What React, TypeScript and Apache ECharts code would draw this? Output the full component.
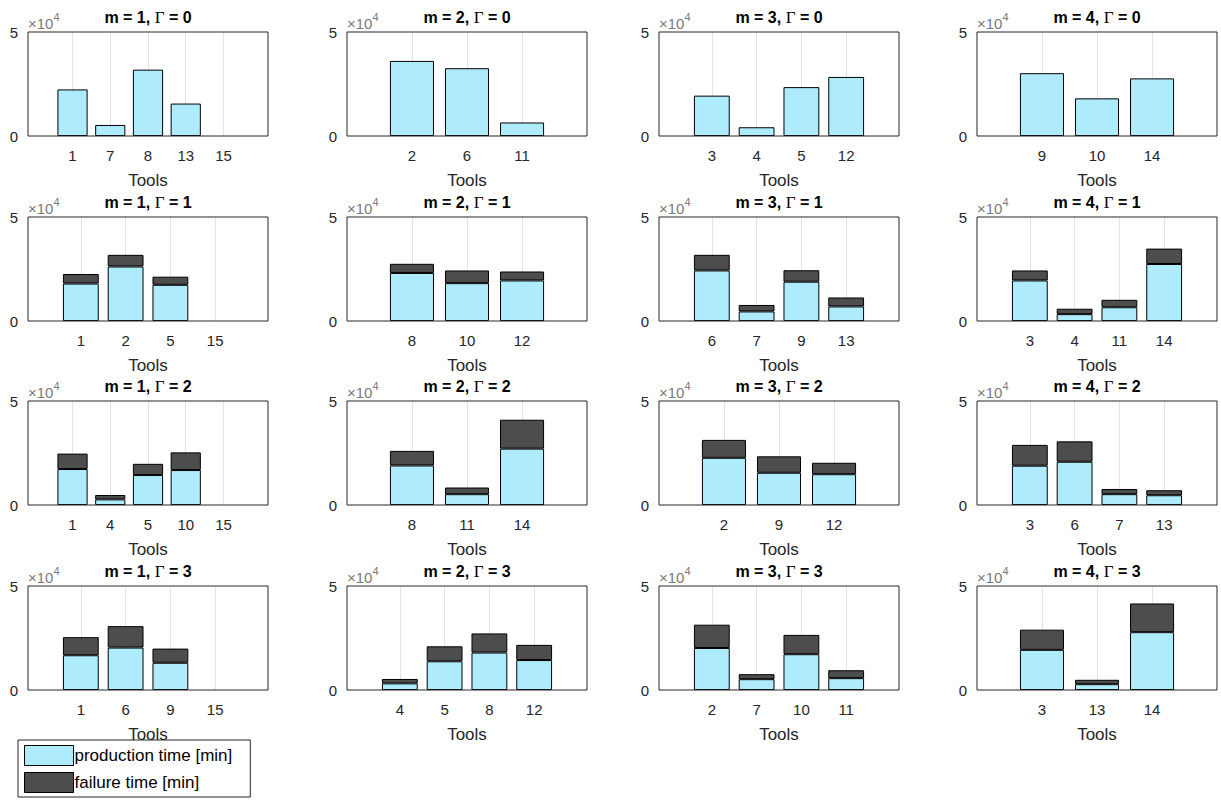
import { useEffect, useRef } from 'react';
import * as echarts from 'echarts';

// tools and times (x1e4 min) per subplot, row = Gamma, col = m
const tools: string[][] = [
  ['1', '7', '8', '13', '15'], ['2', '6', '11'], ['3', '4', '5', '12'], ['9', '10', '14'],
  ['1', '2', '5', '15'], ['8', '10', '12'], ['6', '7', '9', '13'], ['3', '4', '11', '14'],
  ['1', '4', '5', '10', '15'], ['8', '11', '14'], ['2', '9', '12'], ['3', '6', '7', '13'],
  ['1', '6', '9', '15'], ['4', '5', '8', '12'], ['2', '7', '10', '11'], ['3', '13', '14'],
];
const production: number[][] = [
  [2.24, 0.53, 3.19, 1.56, 0], [3.61, 3.26, 0.65], [1.94, 0.42, 2.35, 2.84], [3.02, 1.81, 2.77],
  [1.8, 2.62, 1.74, 0], [2.31, 1.82, 1.95], [2.43, 0.46, 1.89, 0.7], [1.95, 0.33, 0.66, 2.74],
  [1.73, 0.27, 1.44, 1.68, 0], [1.9, 0.52, 2.71], [2.27, 1.55, 1.48], [1.89, 2.08, 0.52, 0.47],
  [1.67, 2.04, 1.31, 0], [0.32, 1.38, 1.8, 1.44], [2.02, 0.52, 1.72, 0.57], [1.93, 0.28, 2.78],
];
const failure: number[][] = [
  [0, 0, 0, 0, 0], [0, 0, 0], [0, 0, 0, 0], [0, 0, 0],
  [0.46, 0.56, 0.39, 0], [0.44, 0.61, 0.43], [0.75, 0.31, 0.55, 0.43], [0.48, 0.26, 0.36, 0.74],
  [0.74, 0.21, 0.54, 0.85, 0], [0.7, 0.32, 1.39], [0.86, 0.79, 0.55], [1.0, 0.98, 0.25, 0.24],
  [0.87, 1.03, 0.68, 0], [0.21, 0.72, 0.92, 0.73], [1.12, 0.24, 0.93, 0.38], [0.97, 0.21, 1.38],
];

const FONT = 'Liberation Sans, Arial, sans-serif';
const TXT = '#262626';
const PROD = '#AEEBFC';
const FAIL = '#4D4D4D';
const colX = [28, 347, 659, 977];
const rowY = [32, 217, 401, 586];
const W = 240;
const H = 104;
const K = 1.18;

const toData = (arr: number[]) => arr.map((v) => (v > 0 ? v * 10000 : null));

export default function App() {
  const ref = useRef<HTMLDivElement>(null);

  useEffect(() => {
    if (!ref.current) return;
    const chart = echarts.init(ref.current, null, { renderer: 'svg' });
    const grid: any[] = [];
    const xAxis: any[] = [];
    const yAxis: any[] = [];
    const series: any[] = [];
    const graphic: any[] = [];

    tools.forEach((cats, i) => {
      const r = Math.floor(i / 4);
      const c = i % 4;
      const n = cats.length;
      const slot = W / (n - 1 + 2 * K);
      const bx = colX[c];
      const by = rowY[r];
      grid.push({ left: bx + K * slot, top: by, width: (n - 1) * slot, height: H });
      xAxis.push({
        type: 'category', gridIndex: i, data: cats, boundaryGap: false,
        axisLine: { show: false }, axisTick: { show: false },
        splitLine: { show: true, lineStyle: { color: '#e3e3e3' } },
        axisLabel: { color: TXT, fontSize: 15, fontFamily: FONT, margin: 12 },
        name: 'Tools', nameLocation: 'middle', nameGap: 36,
        nameTextStyle: { color: TXT, fontSize: 17, fontFamily: FONT },
      });
      yAxis.push({
        type: 'value', gridIndex: i, min: 0, max: 50000, interval: 50000,
        offset: K * slot, axisLine: { show: false }, axisTick: { show: false },
        splitLine: { show: false },
        axisLabel: { color: TXT, fontSize: 15, fontFamily: FONT, margin: 10, formatter: (v: number) => String(v / 10000) },
      });
      const common = {
        type: 'bar', xAxisIndex: i, yAxisIndex: i, stack: 's' + i, barWidth: 0.8 * slot, clip: false,
      };
      series.push({
        ...common, name: 'production time [min]',
        itemStyle: { color: PROD, borderColor: '#000', borderWidth: 1 },
        data: toData(production[i]),
      });
      series.push({
        ...common, name: 'failure time [min]',
        itemStyle: { color: FAIL, borderColor: '#000', borderWidth: 1 },
        data: toData(failure[i]),
      });
      graphic.push({
        type: 'rect', z: 50, silent: true,
        shape: { x: bx, y: by, width: W, height: H },
        style: { fill: 'none', stroke: TXT, lineWidth: 1 },
      });
      graphic.push({
        type: 'text', z: 50, x: bx + W / 2, y: by - 15,
        style: {
          text: `{b|m = ${c + 1}, }{g|Γ}{b| = ${r}}`, align: 'center', verticalAlign: 'middle',
          rich: {
            b: { fontFamily: FONT, fontWeight: 'bold', fontSize: 16, fill: '#000' },
            g: { fontFamily: 'Liberation Serif, serif', fontSize: 17, fill: '#000' },
          },
        },
      });
      graphic.push({
        type: 'text', z: 50, x: bx, y: by - 1,
        style: {
          text: '{a|×10}{s|4}', verticalAlign: 'bottom',
          rich: {
            a: { fontFamily: FONT, fontSize: 15, fill: '#7a7a7a', verticalAlign: 'bottom' },
            s: { fontFamily: FONT, fontSize: 11, fill: '#7a7a7a', verticalAlign: 'top', padding: [0, 0, 9, 0] },
          },
        },
      });
    });

    chart.setOption({
      animation: false,
      grid, xAxis, yAxis, series, graphic,
      legend: {
        orient: 'vertical', left: 18, top: 740, itemWidth: 49, itemHeight: 20, itemGap: 6,
        padding: [5, 18, 4, 6], borderColor: TXT, borderWidth: 1, backgroundColor: '#fff',
        icon: 'rect',
        textStyle: { color: '#000', fontSize: 17, fontFamily: FONT, padding: [0, 0, 0, -4] },
        data: [
          { name: 'production time [min]', itemStyle: { color: PROD, borderColor: '#000', borderWidth: 1 } },
          { name: 'failure time [min]', itemStyle: { color: FAIL, borderColor: '#000', borderWidth: 1 } },
        ],
      },
    });
    return () => chart.dispose();
  }, []);

  return (
    <div
      ref={ref}
      style={{ position: 'fixed', left: 0, top: 0, width: 1221, height: 800, background: '#fff' }}
    />
  );
}
